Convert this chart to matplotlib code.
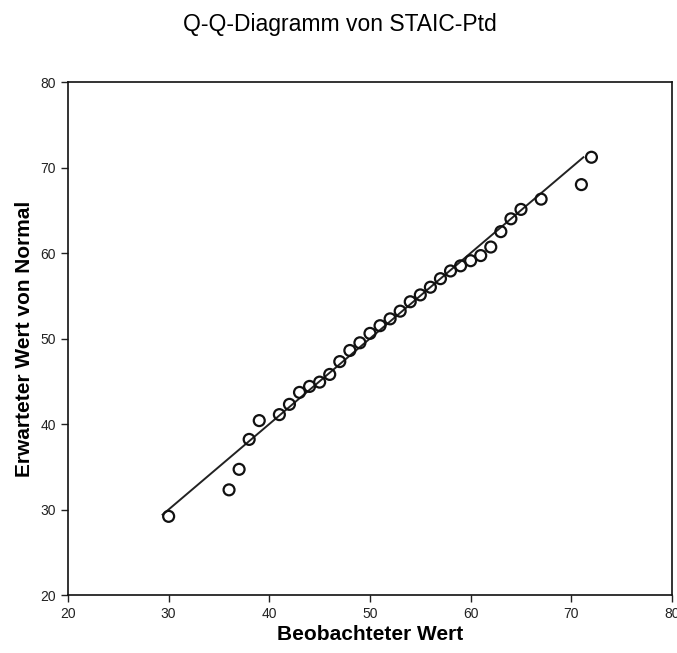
import matplotlib
matplotlib.use("Agg")
import matplotlib.pyplot as plt
import numpy as np

plt.rcParams['font.family'] = ['Liberation Sans', 'DejaVu Sans']

beobachtet = [30, 36, 37, 38, 39, 41, 42, 43, 44, 45, 46, 47, 48, 49, 50,
              51, 52, 53, 54, 55, 56, 57, 58, 59, 60, 61, 62, 63, 64, 65,
              67, 71, 72]
erwartet = [29.2, 32.3, 34.7, 38.2, 40.4, 41.1, 42.3, 43.7, 44.4, 44.9, 45.8,
            47.3, 48.6, 49.5, 50.6, 51.5, 52.3, 53.2, 54.3, 55.1, 56.0, 57.0,
            57.9, 58.5, 59.1, 59.7, 60.7, 62.5, 64.0, 65.1, 66.3, 68.0, 71.2]
linie = [29.4, 71.2]
ticks = [20, 30, 40, 50, 60, 70, 80]

fig = plt.figure(figsize=(6.77, 6.53), dpi=100)
ax = fig.add_axes([0.1004, 0.0888, 0.8922, 0.7856])

ax.plot(linie, linie, color='#222222', lw=1.4, zorder=2)
ax.scatter(beobachtet, erwartet, s=62, facecolors='none', edgecolors='#111111',
           linewidths=1.6, zorder=3)

ax.set_xlim(20, 80)
ax.set_ylim(20, 80)
ax.set_xticks(ticks)
ax.set_yticks(ticks)
ax.tick_params(direction='out', length=5, width=1, labelsize=10, colors='#222222')
for s in ax.spines.values():
    s.set_linewidth(1.2)
    s.set_color('#111111')

ax.set_xlabel('Beobachteter Wert', fontsize=15, fontweight='bold', labelpad=3)
ax.set_ylabel('Erwarteter Wert von Normal', fontsize=15, fontweight='bold', labelpad=5)
fig.text(0.502, 0.963, 'Q-Q-Diagramm von STAIC-Ptd', ha='center', va='center', fontsize=16.5)

fig.savefig('out.png', dpi=100)
